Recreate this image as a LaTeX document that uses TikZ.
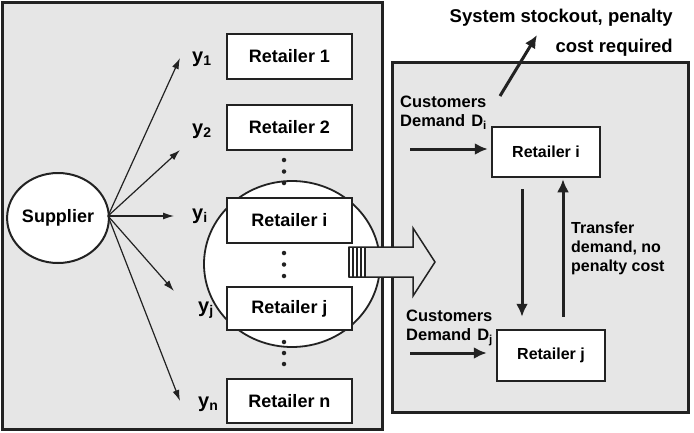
\documentclass[tikz,border=0pt]{standalone}
\usepackage{fontspec}
\setmainfont{Liberation Sans}
\usetikzlibrary{arrows.meta,shapes.geometric}
\definecolor{panelgray}{HTML}{E6E6E6}
\definecolor{edge}{HTML}{222222}
\begin{document}
\begin{tikzpicture}[x=1pt,y=-1pt,
  panel/.style={fill=panelgray,draw=edge,line width=3pt},
  retbox/.style={draw=edge,fill=white,line width=2pt,minimum width=125pt,minimum height=45pt,inner sep=0pt,font=\fontsize{18}{20}\selectfont\bfseries},
  rbox/.style={draw=edge,fill=white,line width=2.5pt,minimum width=108pt,minimum height=50pt,inner sep=0pt,font=\fontsize{16}{18}\selectfont\bfseries},
  thin/.style={draw=edge,line width=1.2pt,-{Latex[length=11pt,width=7pt]}},
  thick/.style={draw=edge,line width=3pt,-{Latex[length=13pt,width=12pt]}},
  ylab/.style={inner sep=0pt,anchor=base west,font=\fontsize{20}{22}\selectfont\bfseries},
  txt/.style={inner sep=0pt,align=left,font=\fontsize{16.5}{19}\selectfont\bfseries},
  dot/.style={circle,fill=edge,inner sep=0pt,minimum size=4.5pt}
]
\useasboundingbox (0,0) rectangle (694,432);
\fill[white] (0,0) rectangle (694,432);
% panels
\draw[panel] (2,2) rectangle (382,429);
\draw[panel] (392,62) rectangle (688,412);

% supplier
\node[ellipse,draw=edge,fill=white,line width=2pt,minimum width=100pt,minimum height=90pt,inner sep=0pt,font=\fontsize{18}{20}\selectfont\bfseries] (sup) at (58,218) {Supplier};

% big circle
\node[ellipse,draw=edge,fill=white,line width=1.8pt,minimum width=176pt,minimum height=166pt,inner sep=0pt] (grp) at (292,264) {};

% retailers left
\node[retbox] (r1) at (289.5,56.5) {Retailer 1};
\node[retbox] (r2) at (289.5,127.5) {Retailer 2};
\node[retbox] (ri) at (289.5,220.5) {Retailer i};
\node[retbox,minimum height=43pt] (rj) at (289.5,308.5) {Retailer j};
\node[retbox,minimum height=44pt] (rn) at (289.5,401) {Retailer n};

% dots
\foreach \yy/\nm in {160/a1,171.5/a2,183/a3,253/b1,264.5/b2,276/b3,342/c1,353/c2,364/c3}
  \node[dot] (\nm) at (284,\yy) {};

% y labels
\node[ylab] (y1) at (192,62) {y\textsubscript{1}};
\node[ylab] (y2) at (192,134) {y\textsubscript{2}};
\node[ylab] (yi) at (192,219) {y\textsubscript{i}};
\node[ylab] (yj) at (198,312) {y\textsubscript{j}};
\node[ylab] (yn) at (198,407) {y\textsubscript{n}};

% supplier arrows
\coordinate (s0) at (108,216);
\coordinate (t1) at (180,58);
\coordinate (t2) at (180,150);
\coordinate (ti) at (174,216);
\coordinate (tj) at (174,291);
\coordinate (tn) at (180,401);
\foreach \t in {t1,t2,ti,tj,tn}
  \draw[thin] (s0) -- (\t);

% hollow arrow
\draw[draw=edge,fill=panelgray,line width=1.5pt,line join=miter]
  (349,247) -- (413,247) -- (413,228) -- (435,262) -- (413,296) -- (413,277) -- (349,277) -- cycle;
\fill[white] (349.8,247.8) rectangle (365,276.2);
\foreach \xx in {349,353,357,361,365}
  \draw[edge,line width=1.1pt] (\xx,247) -- (\xx,277);

% right panel
\node[rbox] (RI) at (546,152) {Retailer i};
\node[rbox,minimum height=51pt] (RJ) at (551,355.5) {Retailer j};

\node[txt,anchor=north west] (cdi) at (400,96) {Customers\\Demand\hspace{6pt}D\textsubscript{i}};
\node[txt,anchor=north west] (cdj) at (406,310) {Customers\\Demand\hspace{6pt}D\textsubscript{j}};
\coordinate (ci) at (410,149);
\coordinate (cj) at (410,353);
\draw[thick,shorten >=3pt] (ci) -- (ci -| RI.west);
\draw[thick,shorten >=9pt] (cj) -- (cj -| RJ.west);

\draw[thick,shorten <=11pt,shorten >=12pt] ([xshift=-24pt]RI.south) -- ([xshift=-24pt]RI.south |- RJ.north);
\draw[thick,shorten <=12pt,shorten >=1pt] ([xshift=17pt]RI.south |- RJ.north) -- ([xshift=17pt]RI.south);

\node[txt,anchor=north west,font=\fontsize{16}{19}\selectfont\bfseries] (tr) at (571,222) {Transfer\\demand, no\\penalty cost};

\node[inner sep=0pt,align=right,anchor=north east,font=\fontsize{18.5}{30}\selectfont\bfseries] (so) at (673,9) {System stockout, penalty\\cost required};
\coordinate (sa) at (500,96);
\coordinate (sb) at (537,35);
\draw[thick] (sa) -- (sb);
\end{tikzpicture}
\end{document}
